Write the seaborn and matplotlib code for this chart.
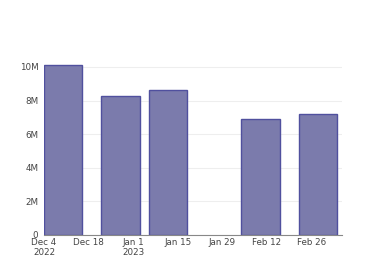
import matplotlib
matplotlib.use("Agg")
import matplotlib.pyplot as plt
import matplotlib.dates as mdates
import seaborn as sns
import pandas as pd
import numpy as np

# data
bar_dates = ["2022-12-10", "2022-12-28", "2023-01-12", "2023-02-10", "2023-02-28"]
bar_values = [10.14e6, 8.29e6, 8.63e6, 6.90e6, 7.22e6]
xtick_dates = ["2022-12-04", "2022-12-18", "2023-01-01", "2023-01-15",
               "2023-01-29", "2023-02-12", "2023-02-26"]
xtick_labels = ["Dec 4\n2022", "Dec 18", "Jan 1\n2023", "Jan 15",
                "Jan 29", "Feb 12", "Feb 26"]
ytick_values = [0, 2e6, 4e6, 6e6, 8e6, 10e6]
ytick_labels = ["0", "2M", "4M", "6M", "8M", "10M"]

sns.set_theme(style="white")
plt.rcParams['font.family'] = ['DejaVu Sans']

df = pd.DataFrame({
    "x": mdates.date2num(pd.to_datetime(bar_dates)),
    "y": bar_values,
})

fig = plt.figure(figsize=(3.8, 2.8), dpi=100)
ax = fig.add_axes([44/380, 45/280, (341.5-44)/380, (235-56)/280])

sns.barplot(data=df, x="x", y="y", native_scale=True, width=0.8,
            color="#7b7bac", edgecolor="#50509e", linewidth=1.0,
            saturation=1, ax=ax)

x0 = mdates.date2num(pd.Timestamp("2022-12-04"))
ax.set_xlim(x0, x0 + 93.4)
ax.set_ylim(0, 10.65e6)

ax.set_xticks(mdates.date2num(pd.to_datetime(xtick_dates)))
ax.set_xticklabels(xtick_labels, fontsize=6.3, color="#444444")
ax.set_yticks(ytick_values)
ax.set_yticklabels(ytick_labels, fontsize=6.3, color="#444444")
ax.tick_params(axis="x", length=0, pad=2)
ax.tick_params(axis="y", length=0, pad=4)
for lbl in ax.get_xticklabels():
    lbl.set_horizontalalignment("center")

ax.grid(axis="y", color="#eeeeee", linewidth=0.8)
ax.set_axisbelow(True)
for s in ["top", "right", "left"]:
    ax.spines[s].set_visible(False)
ax.spines["bottom"].set_color("#888888")
ax.spines["bottom"].set_linewidth(0.8)
ax.set_xlabel("")
ax.set_ylabel("")

fig.savefig("out.png", dpi=100)
